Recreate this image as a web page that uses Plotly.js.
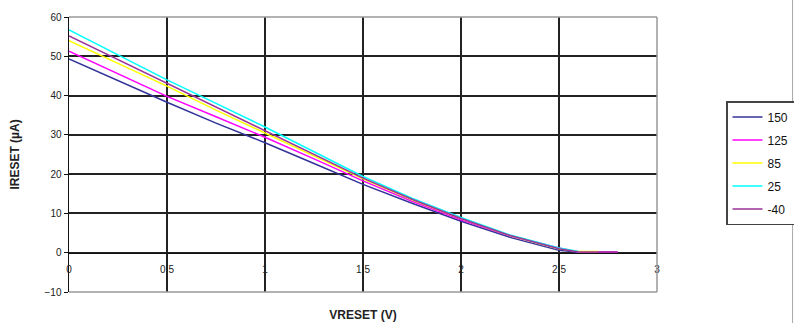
<!DOCTYPE html>
<html>
<head>
<meta charset="utf-8">
<script src="https://cdn.plot.ly/plotly-3.0.1.min.js"></script>
<style>html,body{margin:0;padding:0;background:#fff;}#chart{width:794px;height:323px;}</style>
</head>
<body>
<div id="chart"></div>
<script>
// Series names (temperature)
const seriesNames = ["150", "125", "85", "25", "-40"];
const seriesColors = ["#333399", "#ff00ff", "#ffff00", "#00ffff", "#993399"];

// VRESET (V) sample points
const vBase = [0, 0.25, 0.5, 0.75, 1, 1.25, 1.5, 1.75, 2, 2.25, 2.5];

// IRESET (µA) per series
const x150 = vBase.concat([2.6]);
const y150 = [49.3, 43.7, 38.3, 33.0, 28.0, 22.7, 17.4, 12.6, 8.0, 3.9, 0.6, 0.1];

const x125 = vBase.concat([2.6, 2.8]);
const y125 = [51.3, 45.5, 39.8, 34.6, 29.4, 23.9, 18.3, 13.1, 8.4, 4.3, 1.2, 0.2, 0.2];

const x85 = vBase.concat([2.6, 2.7]);
const y85 = [54.0, 48.2, 42.4, 36.3, 30.5, 24.7, 18.8, 13.5, 8.7, 4.4, 1.0, 0.3, 0.3];

const x25 = vBase.concat([2.6]);
const y25 = [56.7, 50.3, 44.0, 38.0, 32.0, 25.7, 19.4, 13.9, 9.0, 4.5, 1.2, 0.3];

const xm40 = vBase.concat([2.6, 2.8]);
const ym40 = [55.2, 49.2, 43.2, 37.1, 31.2, 25.1, 19.0, 13.6, 8.7, 4.4, 1.0, 0.2, 0.2];

// Tick labels
const xTickVals = [0, 0.5, 1, 1.5, 2, 2.5, 3];
const xTickText = ["0", "0.5", "1", "1.5", "2", "2.5", "3"];
const yTickVals = [-10, 0, 10, 20, 30, 40, 50, 60];

const xs = [x150, x125, x85, x25, xm40];
const ys = [y150, y125, y85, y25, ym40];

const traces = seriesNames.map((n, i) => ({
  type: "scatter", mode: "lines", name: n,
  x: xs[i], y: ys[i],
  line: {color: seriesColors[i], width: 1.5},
  legendgroup: "g" + i
}));

const font = {family: "Liberation Sans, Arial, sans-serif", color: "#222"};

const layout = {
  width: 794, height: 323,
  margin: {l: 69, r: 137, t: 17, b: 31, autoexpand: false},
  paper_bgcolor: "#fff", plot_bgcolor: "#fff",
  font: font,
  showlegend: true,
  legend: {
    xref: "container", yref: "container",
    x: 726 / 794, xanchor: "left", y: 1 - 101 / 323, yanchor: "top",
    bordercolor: "#444", borderwidth: 1.5,
    font: {family: font.family, size: 12, color: "#111"},
    itemwidth: 30, tracegroupgap: 4,
    traceorder: "grouped"
  },
  xaxis: {
    range: [0, 3], tickvals: xTickVals, ticktext: xTickText,
    anchor: "free", position: 1/7,
    showline: true, linecolor: "#111", linewidth: 1.5,
    showgrid: true, gridcolor: "#222", gridwidth: 2,
    zeroline: false, ticks: "outside", ticklen: 7, tickcolor: "rgba(0,0,0,0)",
    tickfont: {family: font.family, size: 10, color: "#222"},
    title: {text: "VRESET (V)", font: {family: font.family, size: 12, color: "#222", weight: "bold"}, standoff: 36}
  },
  yaxis: {
    range: [-10, 60], tickvals: yTickVals,
    showline: true, linecolor: "#111", linewidth: 1.5,
    showgrid: true, gridcolor: "#222", gridwidth: 2,
    zeroline: false, ticks: "outside", ticklen: 4, tickcolor: "#111",
    tickfont: {family: font.family, size: 10, color: "#222"},
    title: {text: "IRESET (µA)", font: {family: font.family, size: 12, color: "#222", weight: "bold"}, standoff: 22}
  },
  shapes: [
    {type: "line", xref: "paper", yref: "paper", x0: 0, x1: 1, y0: 1, y1: 1, line: {color: "#999", width: 1.5}, layer: "above"},
    {type: "line", xref: "paper", yref: "paper", x0: 1, x1: 1, y0: 0, y1: 1, line: {color: "#999", width: 1.5}, layer: "above"},
    {type: "line", xref: "paper", yref: "paper", x0: 0, x1: 1, y0: 0, y1: 0, line: {color: "#999", width: 1.5}, layer: "above"},
    {type: "line", xref: "paper", yref: "paper", x0: 1.2305, x1: 1.2305, y0: -0.12, y1: 1.07, line: {color: "#aaa", width: 1}}
  ]
};

Plotly.newPlot("chart", traces, layout, {displayModeBar: false, staticPlot: true});
</script>
</body>
</html>
